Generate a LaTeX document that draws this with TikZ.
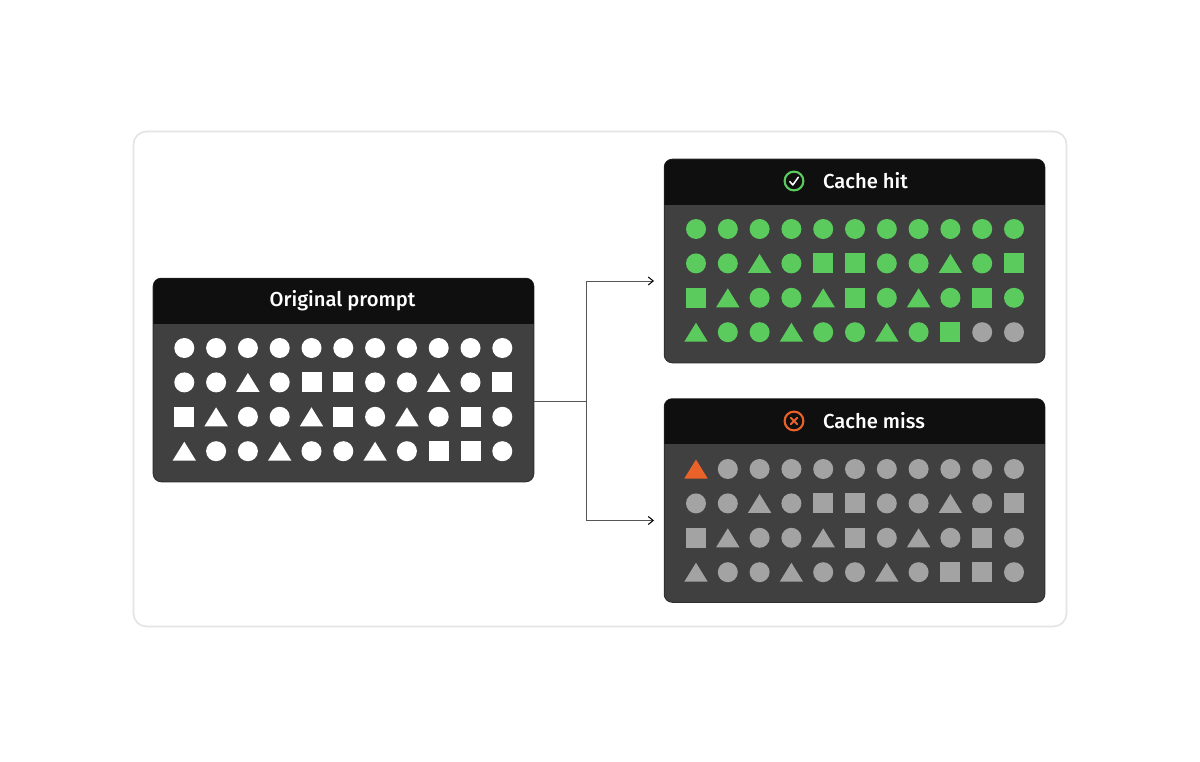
\documentclass[tikz,border=0pt]{standalone}
\usepackage{fontspec}
\setmainfont{Fira Sans Medium}
\usetikzlibrary{arrows.meta}
\definecolor{cardline}{HTML}{E4E4E4}
\definecolor{panelfill}{HTML}{404040}
\definecolor{panelline}{HTML}{303030}
\definecolor{headfill}{HTML}{0F0F0F}
\definecolor{hitgreen}{HTML}{5BCB5E}
\definecolor{mutedgray}{HTML}{A3A3A3}
\definecolor{missorange}{HTML}{E8622A}
\definecolor{linkgray}{HTML}{555555}
\tikzset{
  x=1bp,y=-1bp,
  card/.style={draw=cardline,line width=1.6bp,fill=white,rounded corners=13bp},
  panel/.style={draw=panelline,line width=1bp,fill=panelfill,rounded corners=8bp,minimum width=380.5bp,minimum height=203.5bp,inner sep=0pt,outer sep=0pt},
  headbar/.style={fill=headfill,rounded corners=8bp},
  title/.style={text=white,font=\fontsize{20.2bp}{22bp}\selectfont,inner sep=0pt},
  link/.style={draw=linkgray,line width=1bp},
  linkarrow/.style={link,-{Straight Barb[length=5bp,width=8bp,color=black,line width=1bp]}},
  icon/.style={line width=2.1bp,fill=none}
}
\newcommand{\shapeC}[3]{\fill[#3] (#1,#2) circle[radius=10];}
\newcommand{\shapeS}[3]{\fill[#3] (#1-10,#2-10) rectangle (#1+10,#2+10);}
\newcommand{\shapeT}[3]{\fill[#3] (#1-11.7,#2+9.5) -- (#1,#2-9.5) -- (#1+11.7,#2+9.5) -- cycle;}
\newcommand{\gridshape}[4]{\csname shape#1\endcsname{#2}{#3}{#4}}
% #1 first x, #2 first y, #3 main colour, #4 colour of the cells after #5,
% #6 first-cell colour, #7 first-cell shape, #8 shape of cell 42
\newcommand{\shapegrid}[8]{%
  \foreach \rowtext [count=\r from 0] in {{C,C,C,C,C,C,C,C,C,C,C},{C,C,T,C,S,S,C,C,T,C,S},{S,T,C,C,T,S,C,T,C,S,C},{T,C,C,T,C,C,T,C,S,S,C}}{
    \foreach \k [count=\c from 0] in \rowtext {
      \pgfmathsetmacro{\px}{#1+\c*31.8}
      \pgfmathsetmacro{\py}{#2+\r*34.4}
      \pgfmathtruncatemacro{\idx}{\r*11+\c}
      \def\cellcol{#3}
      \edef\cellkind{\k}
      \ifnum\idx=0 \def\cellcol{#6}\def\cellkind{#7}\fi
      \ifnum\idx=42 \def\cellkind{#8}\fi
      \ifnum\idx>#5 \def\cellcol{#4}\fi
      \gridshape{\cellkind}{\px}{\py}{\cellcol}
    }
  }%
}
\begin{document}
\begin{tikzpicture}
\useasboundingbox (0,0) rectangle (1200,762);
\fill[white] (0,0) rectangle (1200,762);
\draw[card] (133.5,131.5) rectangle (1066.5,626.5);

% panels
\node[panel] (orig) at (343.5,380) {};
\node[panel] (hit) at (854.5,261) {};
\node[panel] (miss) at (854.5,500.5) {};

% header bars
\begin{scope}
\clip (153,278) rectangle (534,323);
\fill[headbar] (153.25,278.25) rectangle (533.75,340);
\end{scope}
\begin{scope}
\clip (664,159) rectangle (1045,204.6);
\fill[headbar] (664.25,159.25) rectangle (1044.75,225);
\end{scope}
\begin{scope}
\clip (664,398.5) rectangle (1045,443.8);
\fill[headbar] (664.25,398.75) rectangle (1044.75,465);
\end{scope}

\node[title] (origtitle) at (342.5,300.5) {Original prompt};
\node[title] (hittitle) at (865.5,181) {Cache hit};
\node[title] (misstitle) at (874,420.5) {Cache miss};

% icons
\draw[icon,hitgreen] (794,181) circle[radius=9.4];
\draw[white,line width=1.5bp,line cap=round,line join=round] (789.8,181.5) -- (792.8,185) -- (798.3,177.3);
\draw[icon,missorange] (794,421) circle[radius=9.4];
\draw[missorange,line width=2bp,line cap=round] (790.8,417.8) -- (797.2,424.2) (797.2,417.8) -- (790.8,424.2);

% shape grids
\shapegrid{184.3}{348}{white}{white}{43}{white}{C}{S}
\shapegrid{696}{229}{hitgreen}{mutedgray}{41}{hitgreen}{C}{C}
\shapegrid{696}{469}{mutedgray}{mutedgray}{43}{missorange}{T}{S}

% connectors
\coordinate (fork) at (586.7,401);
\coordinate (hitend) at (654,281);
\coordinate (missend) at (654,520.5);
\draw[link] (orig.east |- fork) -- (fork);
\draw[linkarrow] (fork) |- (hitend);
\draw[linkarrow] (fork) |- (missend);
\end{tikzpicture}
\end{document}
